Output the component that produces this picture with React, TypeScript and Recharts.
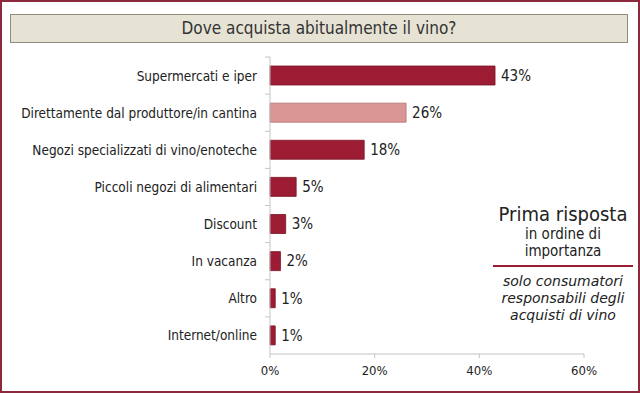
import { BarChart, Bar, XAxis, YAxis, Cell, LabelList } from "recharts";

const categories = [
  "Supermercati e iper",
  "Direttamente dal produttore/in cantina",
  "Negozi specializzati di vino/enoteche",
  "Piccoli negozi di alimentari",
  "Discount",
  "In vacanza",
  "Altro",
  "Internet/online",
];
const values = [43, 26, 18, 5, 3, 2, 1, 1];
const highlighted = [false, true, false, false, false, false, false, false];
const xTicks = [0, 20, 40, 60];

const FONT = "'DejaVu Sans Condensed', 'DejaVu Sans', sans-serif";
const WIDE_FONT = "'DejaVu Sans', sans-serif";
const DARK = "#9C1C33";
const LIGHT = "#D99695";
const BAND_HALF = 297 / categories.length / 2;

const data = categories.map((name, i) => ({
  name,
  value: values[i],
  light: highlighted[i],
}));

// label at band centre, tick mark at band boundary
function CategoryTick(props: any) {
  const { x, y, payload } = props;
  return (
    <g>
      <line x1={x - 5} x2={x} y1={y - BAND_HALF} y2={y - BAND_HALF} stroke="#c4c4c4" />
      <text x={x - 13} y={y} dy={5} textAnchor="end" fontSize={13.5} fill="#222" fontFamily={FONT}>
        {payload.value}
      </text>
    </g>
  );
}

const noteItalic = {
  fontSize: 14,
  lineHeight: "17px",
  fontStyle: "italic" as const,
  fontFamily: WIDE_FONT,
};

export default function App() {
  return (
    <div
      style={{
        position: "absolute",
        left: 0,
        top: 0,
        width: 640,
        height: 393,
        background: "#fff",
        fontFamily: FONT,
      }}
    >
      <BarChart
        width={640}
        height={393}
        data={data}
        layout="vertical"
        margin={{ top: 57, right: 56, bottom: 9, left: 0 }}
        barSize={19}
      >
        <XAxis
          type="number"
          domain={[0, 60]}
          ticks={xTicks}
          tickFormatter={(v) => `${v}%`}
          tick={{ fontSize: 13, fill: "#222", fontFamily: FONT }}
          tickSize={4}
          tickMargin={8}
          axisLine={{ stroke: "#c4c4c4" }}
          tickLine={{ stroke: "#c4c4c4" }}
          height={30}
        />
        <YAxis
          type="category"
          dataKey="name"
          width={270}
          tick={<CategoryTick />}
          tickLine={false}
          tickSize={0}
          tickMargin={0}
          axisLine={{ stroke: "#c4c4c4" }}
          interval={0}
        />
        <Bar dataKey="value" isAnimationActive={false}>
          {data.map((d) => (
            <Cell
              key={d.name}
              fill={d.light ? LIGHT : DARK}
              stroke={d.light ? "#b56d6c" : "#7c1326"}
              strokeWidth={0.8}
            />
          ))}
          <LabelList
            dataKey="value"
            position="right"
            offset={6}
            formatter={(v: any) => `${v}%`}
            style={{ fontSize: 15, fill: "#222", fontFamily: FONT }}
          />
        </Bar>
      </BarChart>

      {/* title box */}
      <div
        style={{
          position: "absolute",
          left: 10,
          top: 14,
          width: 616,
          height: 27,
          background: "#E6E3D5",
          border: "1px solid #8f8c80",
          textAlign: "center",
          lineHeight: "27px",
          fontSize: 17,
          color: "#333",
        }}
      >
        Dove acquista abitualmente il vino?
      </div>

      {/* side note */}
      <div
        style={{
          position: "absolute",
          left: 493,
          top: 202,
          width: 140,
          textAlign: "center",
          color: "#222",
        }}
      >
        <div style={{ fontSize: 20, lineHeight: "24px" }}>Prima risposta</div>
        <div style={{ fontSize: 15, lineHeight: "17px" }}>in ordine di</div>
        <div style={{ fontSize: 15, lineHeight: "17px" }}>importanza</div>
        <div style={{ height: 2, background: "#9C1C33", marginTop: 5, marginBottom: 6 }} />
        <div style={noteItalic}>solo consumatori</div>
        <div style={noteItalic}>responsabili degli</div>
        <div style={noteItalic}>acquisti di vino</div>
      </div>

      {/* outer frame */}
      <div
        style={{
          position: "absolute",
          left: 0,
          top: 0,
          width: 640,
          height: 393,
          boxSizing: "border-box",
          border: "2px solid #8B2A3E",
          pointerEvents: "none",
        }}
      />
    </div>
  );
}
